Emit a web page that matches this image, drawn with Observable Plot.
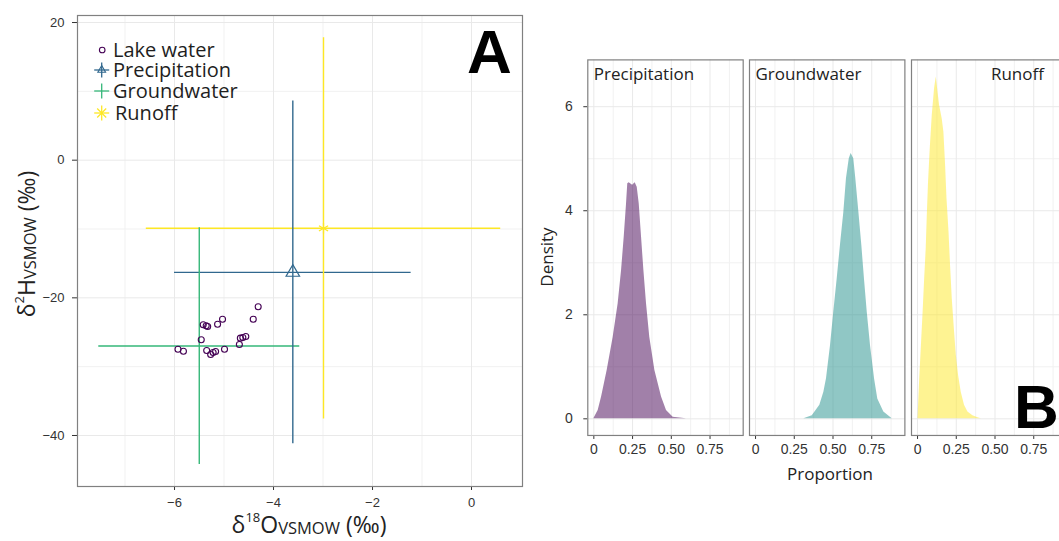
<!DOCTYPE html>
<html><head><meta charset="utf-8">
<script src="https://cdn.jsdelivr.net/npm/d3@7"></script>
<script src="https://cdn.jsdelivr.net/npm/@observablehq/plot@0.6"></script>
<style>
body{margin:0;background:#fff;}
#root{position:relative;width:1059px;height:541px;overflow:hidden;background:#fff;}
#root > svg{position:absolute;top:0;margin:0;}
</style></head><body><div id="root"></div>
<script>
// ---------- Panel A data ----------
const sources = ["Precipitation", "Groundwater", "Runoff"];
const d18OMean = [-3.61, -5.50, -2.99];
const d18OSd   = [2.39, 2.03, 3.58];
const d2HMean  = [-16.3, -27.0, -9.9];
const d2HSd    = [24.9, 17.2, 27.7];
const lakeD18O = [-5.93, -5.82, -5.46, -5.42, -5.36, -5.33, -5.35, -5.27, -5.22, -5.17, -5.13, -5.03, -4.99, -4.69, -4.67, -4.62, -4.56, -4.41, -4.31];
const lakeD2H  = [-27.46, -27.75, -26.09, -23.91, -24.06, -24.16, -27.65, -28.23, -27.94, -27.79, -23.83, -23.10, -27.46, -26.78, -25.86, -25.76, -25.61, -23.10, -21.30];
const xTicksA = [-6, -4, -2, 0];
const xMinorA = [-7, -5, -3, -1];
const yTicksA = [-40, -20, 0, 20];
const yMinorA = [-30, -10, 10];
const legendLabels = ["Lake water", "Precipitation", "Groundwater", "Runoff"];

// ---------- Panel B data ----------
const precipProp = [0.000, 0.028, 0.050, 0.086, 0.125, 0.157, 0.179, 0.196, 0.211, 0.219, 0.228, 0.250, 0.267, 0.280, 0.293, 0.308, 0.323, 0.340, 0.361, 0.394, 0.437, 0.469, 0.512, 0.598];
const precipDens = [0, 0.16, 0.42, 0.93, 1.57, 2.21, 2.85, 3.49, 4.13, 4.52, 4.54, 4.49, 4.54, 4.45, 4.13, 3.49, 2.85, 2.21, 1.57, 0.93, 0.42, 0.16, 0.03, 0];
const groundProp = [0.312, 0.366, 0.415, 0.441, 0.458, 0.484, 0.505, 0.527, 0.548, 0.570, 0.587, 0.605, 0.617, 0.634, 0.647, 0.667, 0.686, 0.703, 0.721, 0.742, 0.768, 0.789, 0.828, 0.882];
const groundDens = [0, 0.06, 0.26, 0.51, 0.77, 1.41, 2.05, 2.69, 3.33, 3.97, 4.62, 5.00, 5.10, 5.00, 4.62, 3.97, 3.33, 2.69, 2.05, 1.41, 0.77, 0.38, 0.13, 0];
const runoffProp = [0.003, 0.013, 0.024, 0.035, 0.045, 0.056, 0.063, 0.071, 0.082, 0.095, 0.110, 0.121, 0.132, 0.142, 0.159, 0.170, 0.181, 0.190, 0.203, 0.213, 0.224, 0.239, 0.250, 0.265, 0.282, 0.303, 0.325, 0.357, 0.390, 0.411];
const runoffDens = [0, 0.70, 1.35, 1.99, 2.63, 3.27, 3.91, 4.55, 5.19, 5.83, 6.35, 6.57, 6.28, 6.03, 5.77, 5.51, 4.87, 4.23, 3.59, 2.95, 2.31, 1.67, 1.22, 0.83, 0.51, 0.26, 0.13, 0.06, 0.02, 0];
const propTicks = [0, 0.25, 0.5, 0.75];
const propMinor = [0.125, 0.375, 0.625, 0.875];
const densTicks = [0, 2, 4, 6];
const densMinor = [1, 3, 5];

// ---------- styling ----------
const palette = ["#440154", "#31688E", "#35B779", "#FDE725"];
const fillPalette = ["#440154", "#21908C", "#FDE725"];
const root = document.getElementById("root");
const tickFont = "'Liberation Sans', Arial, sans-serif";
const textFont = "'Open Sans', 'Noto Sans', sans-serif";

// ---------- Panel A ----------
const srcRows = sources.map((name, i) => ({name, o: d18OMean[i], os: d18OSd[i], h: d2HMean[i], hs: d2HSd[i]}));
const lakeRows = lakeD18O.map((o, i) => ({name: "Lake water", o, h: lakeD2H[i]}));

const plotA = Plot.plot({
  width: 530, height: 541,
  marginLeft: 77, marginRight: 8, marginTop: 15, marginBottom: 55,
  style: {fontFamily: tickFont, fontSize: "13px", color: "#333", background: "transparent"},
  x: {domain: [-7.96, 1.03], ticks: xTicksA, tickSize: 4, tickPadding: 7, label: null},
  y: {domain: [-47.41, 21.02], ticks: yTicksA, tickSize: 5, tickPadding: 8, label: null},
  color: {domain: legendLabels, range: palette},
  marks: [
    Plot.ruleX(xMinorA, {stroke: "#f1f1f1"}),
    Plot.ruleY(yMinorA, {stroke: "#f1f1f1"}),
    Plot.ruleX(xTicksA, {stroke: "#e9e9e9"}),
    Plot.ruleY(yTicksA, {stroke: "#e9e9e9"}),
    Plot.ruleY(srcRows, {y: "h", x1: d => d.o - d.os, x2: d => d.o + d.os, stroke: "name", strokeWidth: 1.4}),
    Plot.ruleX(srcRows, {x: "o", y1: d => d.h - d.hs, y2: d => d.h + d.hs, stroke: "name", strokeWidth: 1.4}),
    Plot.dot(srcRows.filter(d => d.name === "Precipitation"), {x: "o", y: "h", symbol: "triangle", r: 5, stroke: "name", fill: "none", strokeWidth: 1.2}),
    Plot.dot(srcRows.filter(d => d.name === "Runoff"), {x: "o", y: "h", symbol: "asterisk", r: 5, stroke: "name", strokeWidth: 1.2}),
    Plot.dot(lakeRows, {x: "o", y: "h", r: 3, stroke: "name", fill: "none", strokeWidth: 1.1}),
    Plot.frame({stroke: "#808080", strokeWidth: 1.2})
  ]
});
plotA.style.left = "0px";
root.appendChild(plotA);

// ---------- Panel B ----------
const densSeries = [
  {name: "Precipitation", xs: precipProp, ys: precipDens},
  {name: "Groundwater", xs: groundProp, ys: groundDens},
  {name: "Runoff", xs: runoffProp, ys: runoffDens}
];
const facetStep = 162, facetW = 155.4, facetLeft0 = 587.3;
densSeries.forEach((s, i) => {
  const showY = i === 0;
  const ml = showY ? 57.3 : 1;
  const rows = s.xs.map((x, j) => ({name: s.name, x, y: s.ys[j]}));
  const right = s.name === "Runoff";
  const p = Plot.plot({
    width: ml + facetW + 2, height: 541,
    marginLeft: ml, marginRight: 2, marginTop: 59.4, marginBottom: 106,
    style: {fontFamily: tickFont, fontSize: "14px", color: "#333", background: "transparent"},
    x: {domain: [-0.039, 0.964], ticks: propTicks, tickFormat: d => d === 0 ? "0" : d.toFixed(2), tickSize: 4, tickPadding: 5, label: null},
    y: {domain: [-0.32, 6.9], ticks: densTicks, tickSize: 4, tickPadding: 11, label: null, axis: showY ? "left" : null},
    color: {domain: sources, range: fillPalette},
    marks: [
      Plot.ruleX(propMinor, {stroke: "#f1f1f1"}),
      Plot.ruleY(densMinor, {stroke: "#f1f1f1"}),
      Plot.ruleX(propTicks, {stroke: "#e9e9e9"}),
      Plot.ruleY(densTicks, {stroke: "#e9e9e9"}),
      Plot.areaY(rows, {x: "x", y: "y", fill: "name", fillOpacity: 0.5}),
      Plot.text([s.name], {
        text: d => d,
        frameAnchor: right ? "top-right" : "top-left",
        textAnchor: right ? "end" : "start",
        lineAnchor: "top",
        dx: right ? -23 : 6, dy: 8,
        fontSize: 17, fontFamily: textFont, fill: "#222"
      }),
      Plot.frame({stroke: "#808080", strokeWidth: 1.2})
    ]
  });
  p.style.left = (facetLeft0 + i * facetStep - ml) + "px";
  root.appendChild(p);
});

// ---------- Overlay: titles, legend, panel letters ----------
const ov = d3.select(root).append("svg")
  .attr("width", 1059).attr("height", 541)
  .style("left", "0px").style("background", "transparent");

// Panel A y title
const yt = ov.append("text")
  .attr("transform", "translate(35,244) rotate(-90)")
  .attr("text-anchor", "middle")
  .attr("font-family", textFont).attr("font-size", 23).attr("fill", "#222");
yt.append("tspan").text("δ");
yt.append("tspan").attr("font-size", 13).attr("dy", -11).text("2");
yt.append("tspan").attr("dy", 11).text("H");
yt.append("tspan").attr("font-size", 16.5).attr("dy", 1).text("VSMOW");
yt.append("tspan").attr("dy", -1).text(" (‰)");

// Panel A x title
const xt = ov.append("text")
  .attr("x", 309).attr("y", 533)
  .attr("text-anchor", "middle")
  .attr("font-family", textFont).attr("font-size", 23).attr("fill", "#222");
xt.append("tspan").text("δ");
xt.append("tspan").attr("font-size", 13).attr("dy", -11).text("18");
xt.append("tspan").attr("dy", 11).text("O");
xt.append("tspan").attr("font-size", 16.5).attr("dy", 1).text("VSMOW");
xt.append("tspan").attr("dy", -1).text(" (‰)");

// Legend (Panel A)
const legY = [50, 70, 91, 113];
const lg = ov.append("g");
legendLabels.forEach((lab, i) => {
  const y = legY[i], x = 101.7, col = palette[i];
  if (i === 0) {
    lg.append("circle").attr("cx", x + 0.5).attr("cy", y).attr("r", 2.8).attr("fill", "none").attr("stroke", col).attr("stroke-width", 1.1);
  } else {
    lg.append("line").attr("x1", x - 7.5).attr("x2", x + 7.5).attr("y1", y).attr("y2", y).attr("stroke", col).attr("stroke-width", 1.3);
    lg.append("line").attr("x1", x).attr("x2", x).attr("y1", y - 7.5).attr("y2", y + 7.5).attr("stroke", col).attr("stroke-width", 1.3);
    if (i === 1) {
      lg.append("path").attr("d", d3.symbol(d3.symbolTriangle, 26)()).attr("transform", `translate(${x},${y})`).attr("fill", "none").attr("stroke", col).attr("stroke-width", 1.1);
    }
    if (i === 3) {
      lg.append("line").attr("x1", x - 4.5).attr("x2", x + 4.5).attr("y1", y - 4.5).attr("y2", y + 4.5).attr("stroke", col).attr("stroke-width", 1.2);
      lg.append("line").attr("x1", x - 4.5).attr("x2", x + 4.5).attr("y1", y + 4.5).attr("y2", y - 4.5).attr("stroke", col).attr("stroke-width", 1.2);
    }
  }
  lg.append("text").attr("x", i === 3 ? 115 : 113).attr("y", y).attr("dy", "0.36em")
    .attr("font-family", textFont).attr("font-size", 20).attr("fill", "#1e1e1e").text(lab);
});

// Panel B titles
ov.append("text").attr("transform", "translate(553,257) rotate(-90)").attr("text-anchor", "middle")
  .attr("font-family", textFont).attr("font-size", 17).attr("fill", "#222").text("Density");
ov.append("text").attr("x", 830).attr("y", 480).attr("text-anchor", "middle")
  .attr("font-family", textFont).attr("font-size", 17).attr("fill", "#222").text("Proportion");

// Panel letters
ov.append("text").attr("x", 467).attr("y", 73).attr("font-family", "'Liberation Sans', Arial, sans-serif")
  .attr("font-weight", 700).attr("font-size", 62).attr("fill", "#000").text("A");
ov.append("text").attr("x", 1014).attr("y", 428).attr("font-family", "'Liberation Sans', Arial, sans-serif")
  .attr("font-weight", 700).attr("font-size", 62).attr("fill", "#000").text("B");
</script>
</body></html>
